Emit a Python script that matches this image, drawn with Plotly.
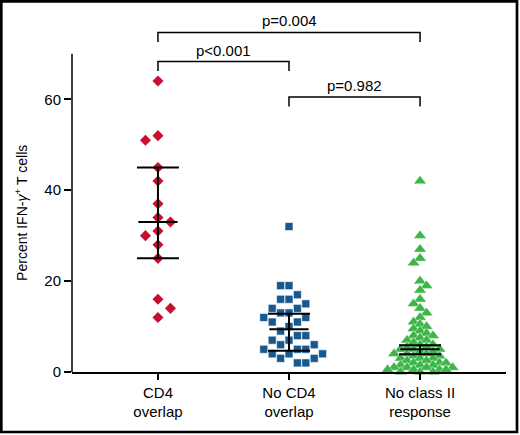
import plotly.graph_objects as go

# group labels on the x axis
groups = ["CD4<br>overlap", "No CD4<br>overlap", "No class II<br>response"]

# percent IFN-gamma+ T cells per response
cd4_overlap = [64, 52, 51, 45, 42, 37, 34, 33, 31, 30, 28, 25, 16, 14, 12]
no_cd4_overlap = [32, 19, 19, 17, 16, 16, 15, 14, 14, 13, 13, 12, 12, 11, 11, 10,
                  9, 8, 8, 7, 7, 6, 6, 5, 5, 5, 4, 4, 4, 3, 3, 2, 2]
no_class_ii = [42, 30, 27, 25, 24, 20, 19, 18, 16,
               15, 14, 13, 12, 11, 10.5, 10, 9.5, 9, 8.5, 8, 8, 7.5, 7, 7, 6.5, 6, 6,
               5.5, 5.5, 5, 5, 5, 4.5, 4.5, 4, 4, 4, 3.5, 3.5, 3, 3, 3, 2.5, 2.5, 2, 2, 2,
               1.5, 1.5, 1.5, 1, 1, 1, 1, 0.5, 0.5, 0.5, 0.5, 0, 0, 0]

# median with confidence interval bars
medians = [33, 9.4, 5.0]
ci_low = [25, 4.7, 3.9]
ci_high = [45, 12.8, 5.9]

# pairwise comparisons
comparisons = [(0, 1), (1, 2), (0, 2)]
p_labels = ["p<0.001", "p=0.982", "p=0.004"]
bracket_levels = [68.3, 60.5, 74.7]

W, H = 520, 435
ml, mr, mt, mb = 72, 14, 22, 63
xr = [-0.656, 2.656]
yr = [0, 77]
pw, ph = W - ml - mr, H - mt - mb
px_x = pw / (xr[1] - xr[0])
px_y = ph / (yr[1] - yr[0])


def swarm(values, step_px, gap_px):
    # simple beeswarm: slots 0, -1, +1, ... filled from the top down
    step = step_px / px_x
    gap = gap_px / px_y
    placed = []
    res = [0.0] * len(values)
    left = right = 0
    for i in sorted(range(len(values)), key=lambda j: -values[j]):
        v = values[i]
        k = 0
        slot = None
        while slot is None:
            cands = [0] if k == 0 else ([-k, k] if left <= right else [k, -k])
            for s in cands:
                if all(not (ps == s and abs(pv - v) < gap) for pv, ps in placed):
                    slot = s
                    break
            k += 1
        placed.append((v, slot))
        if slot < 0:
            left += 1
        elif slot > 0:
            right += 1
        res[i] = slot * step
    return res


sets = [
    (cd4_overlap, "diamond", 8.5, "#c8102e", 0, 12.5, 10),
    (no_cd4_overlap, "square", 8, "#17588f", 0.6, 8.4, 9.5),
    (no_class_ii, "triangle-up", 11, "#3cb549", 0.4, 6.5, 6),
]

fig = go.Figure()
for gi, (vals, sym, size, col, lw, step, gap) in enumerate(sets):
    offs = swarm(vals, step, gap)
    fig.add_trace(go.Scatter(
        x=[gi + o for o in offs], y=vals, mode="markers",
        marker=dict(symbol=sym, size=size, color=col, line=dict(width=lw, color="white")),
        showlegend=False, cliponaxis=False))

fig.add_trace(go.Scatter(
    x=list(range(len(groups))), y=medians, mode="markers",
    marker=dict(symbol="line-ew", size=28, line=dict(width=2, color="black")),
    error_y=dict(type="data", symmetric=False,
                 array=[h - m for h, m in zip(ci_high, medians)],
                 arrayminus=[m - l for m, l in zip(medians, ci_low)],
                 width=21, thickness=2, color="black"),
    showlegend=False))

shapes = []
annos = []
for (a, b), lab, lev in zip(comparisons, p_labels, bracket_levels):
    shapes.append(dict(type="path", xref="x", yref="y",
                       path=f"M {a},{lev - 2.1} L {a},{lev} L {b},{lev} L {b},{lev - 2.1}",
                       line=dict(color="black", width=1.5)))
    annos.append(dict(x=(a + b) / 2, y=lev, xref="x", yref="y", text=lab, showarrow=False,
                      yanchor="bottom", yshift=1, font=dict(size=15, color="black")))

# y axis line stops at 70, x axis line overhangs a little to the left
shapes.append(dict(type="line", xref="paper", yref="y", x0=0, x1=0, y0=0, y1=70,
                   line=dict(color="black", width=1.5)))
shapes.append(dict(type="line", xref="paper", yref="y", x0=-7 / pw, x1=0, y0=0, y1=0,
                   line=dict(color="black", width=1.5)))
# frame around the figure
shapes.append(dict(type="rect", xref="paper", yref="paper",
                   x0=(1.3 - ml) / pw, x1=(517 - ml) / pw,
                   y0=(H - mb - 432) / ph, y1=(H - mb - 1.3) / ph,
                   line=dict(color="black", width=2.7)))

annos.append(dict(x=(21 - ml) / pw, y=35, xref="paper", yref="y", textangle=-90,
                  xanchor="center", yanchor="middle",
                  text="Percent IFN-<i>γ</i><sup>+</sup> T cells", showarrow=False,
                  font=dict(size=14, color="black")))

fig.update_layout(
    width=W, height=H, margin=dict(l=ml, r=mr, t=mt, b=mb),
    paper_bgcolor="white", plot_bgcolor="white",
    font=dict(family="Liberation Sans, Arial, sans-serif", color="black"),
    shapes=shapes, annotations=annos,
    xaxis=dict(range=xr, tickvals=list(range(len(groups))), ticktext=groups,
               showline=True, linecolor="black", linewidth=1.5, ticks="outside",
               ticklen=6, tickwidth=1.5, tickcolor="black", showgrid=False, zeroline=False,
               tickfont=dict(size=15)),
    yaxis=dict(range=yr, tickvals=[0, 20, 40, 60], showline=False, ticks="outside",
               ticklen=7, tickwidth=1.5, tickcolor="black", showgrid=False, zeroline=False,
               tickfont=dict(size=15)),
)

fig.write_html("out.html", config={"displayModeBar": False},
               post_script="document.body.style.margin='0';")
